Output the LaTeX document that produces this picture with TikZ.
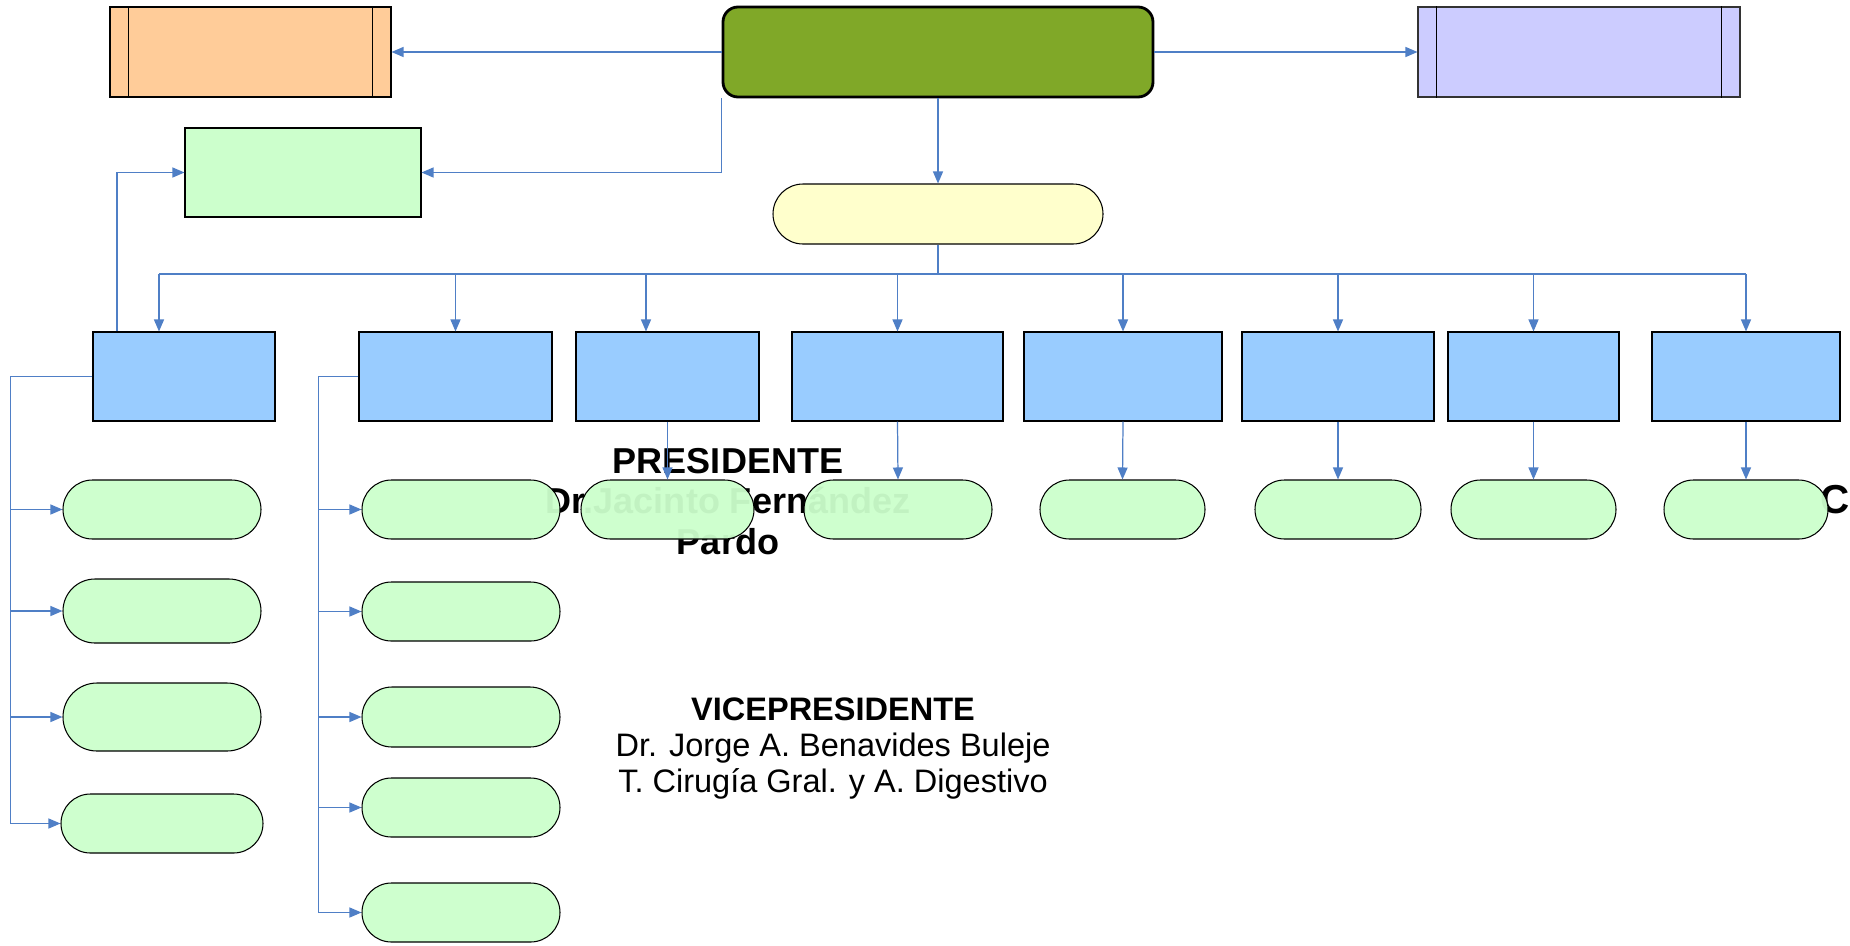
\documentclass[tikz,border=0pt]{standalone}
\usepackage{fontspec}
\setmainfont{Liberation Sans}
\usetikzlibrary{positioning}
\usetikzlibrary{arrows.meta}
\usetikzlibrary{shapes.misc}
\definecolor{oOlive}{HTML}{80A828}
\definecolor{oPeach}{HTML}{FFCC99}
\definecolor{oLilac}{HTML}{CCCCFF}
\definecolor{oMint}{HTML}{CCFFCC}
\definecolor{oCream}{HTML}{FFFFCC}
\definecolor{oSky}{HTML}{99CCFF}
\definecolor{oLine}{HTML}{4F7FC6}

\begin{document}
\begin{tikzpicture}[
  link/.style={draw=oLine, line width=0.7pt},
  arr/.style={link, -{Triangle[length=0.24cm,width=0.2cm]}},
  box/.style={draw, line width=0.6pt, minimum height=1.78cm, inner sep=0pt},
  unit/.style={box, fill=oSky},
  pill/.style={draw, line width=0.6pt, rounded rectangle, fill=oMint, fill opacity=0.95, draw opacity=1, minimum height=1.18cm, inner sep=0pt},
]
  \path[fill=white, use as bounding box] (0,0) rectangle (37,-18.9);

  % names behind the boxes
  \node[font=\bfseries\fontsize{20.5}{23}\selectfont, align=center] (pres) at (14.56,-10.03) {PRESIDENTE\\Dr.Jacinto Fernández\\Pardo};
  \node[font=\fontsize{18.5}{20.3}\selectfont, align=center] (vice) at (16.66,-14.97) {\textbf{VICEPRESIDENTE}\\Dr. Jorge A. Benavides Buleje\\T. Cirugía Gral. y A. Digestivo};
  \node[font=\bfseries\fontsize{23}{26}\selectfont, anchor=west, inner sep=0pt] (cut) at (36.4,-10.0) {C};

  % top row
  \node[draw, line width=1.6pt, rounded corners=0.3cm, fill=oOlive, minimum width=8.6cm, minimum height=1.8cm] (head) at (18.76,-1.04) {};
  \node[box, fill=oPeach, minimum width=5.62cm, minimum height=1.8cm] (peach) at (5.01,-1.04) {};
  \node[box, draw=black!80, fill=oLilac, minimum width=6.44cm, minimum height=1.8cm] (lilac) at (31.58,-1.04) {};
  \foreach \n in {peach,lilac} {
    \draw ([xshift=0.38cm]\n.north west) -- ([xshift=0.38cm]\n.south west);
    \draw ([xshift=-0.38cm]\n.north east) -- ([xshift=-0.38cm]\n.south east);
  }
  \node[box, fill=oMint, minimum width=4.72cm] (aux) at (6.06,-3.45) {};
  \node[draw, line width=0.6pt, rounded rectangle, fill=oCream, minimum width=6.6cm, minimum height=1.2cm, inner sep=0pt] (cream) at (18.76,-4.28) {};

  % departments
  \foreach \n/\x/\w in {b1/3.68/3.64, b2/9.11/3.86, b3/13.35/3.66, b4/17.95/4.22, b5/22.46/3.96, b6/26.76/3.84, b7/30.67/3.42, b8/34.92/3.76}
    \node[unit, minimum width=\w cm] (\n) at (\x,-7.53) {};

  \foreach \n/\x/\w in {r3/13.35/3.46, r4/17.96/3.76, r5/22.45/3.3, r6/26.76/3.32, r7/30.67/3.3, r8/34.92/3.28}
    \node[pill, minimum width=\w cm] (\n) at (\x,-10.19) {};

  \node[pill, minimum width=3.96cm] (p1) at (3.24,-10.19) {};
  \node[pill, minimum width=3.96cm, minimum height=1.28cm] (p2) at (3.24,-12.22) {};
  \node[pill, minimum width=3.96cm, minimum height=1.36cm] (p3) at (3.24,-14.34) {};
  \node[pill, minimum width=4.04cm] (p4) at (3.24,-16.47) {};

  \node[pill, minimum width=3.96cm] (q1) at (9.22,-10.19) {};
  \node[pill, minimum width=3.96cm] (q2) at (9.22,-12.23) {};
  \node[pill, minimum width=3.96cm, minimum height=1.2cm] (q3) at (9.22,-14.34) {};
  \node[pill, minimum width=3.96cm] (q4) at (9.22,-16.15) {};
  \node[pill, minimum width=3.96cm] (q5) at (9.22,-18.25) {};

  \coordinate (bus) at (0,-5.48);
  \coordinate (spineA) at (0.21,0);
  \coordinate (spineB) at (6.37,0);

  % connectors
  \draw[arr] (head.west) -- (peach.east);
  \draw[arr] (head.east) -- (lilac.west);
  \draw[arr] (head.south west) |- (aux.east);
  \draw[arr] (head.south) -- (cream.north);
  \draw[arr] ([xshift=-1.34cm]b1.north) |- (aux.west);

  \draw[link] (cream.south) -- (cream.south |- bus);
  \draw[link] ([xshift=-0.5cm]b1.north |- bus) -- (b8.north |- bus);
  \foreach \n/\d in {b1/-0.5, b2/0, b3/-0.43, b4/0, b5/0, b6/0, b7/0, b8/0}
    \draw[arr] ([xshift=\d cm]\n.north |- bus) -- ([xshift=\d cm]\n.north);

  \foreach \i in {3,...,8}
    \draw[arr] (b\i.south) -- (r\i.north);

  \draw[link] (b1.west) -| (spineA |- p4.west);
  \foreach \n in {p1,p2,p3,p4}
    \draw[arr] (spineA |- \n.west) -- (\n.west);

  \draw[link] (b2.west) -| (spineB |- q5.west);
  \foreach \n in {q1,q2,q3,q4,q5}
    \draw[arr] (spineB |- \n.west) -- (\n.west);

\end{tikzpicture}
\end{document}
